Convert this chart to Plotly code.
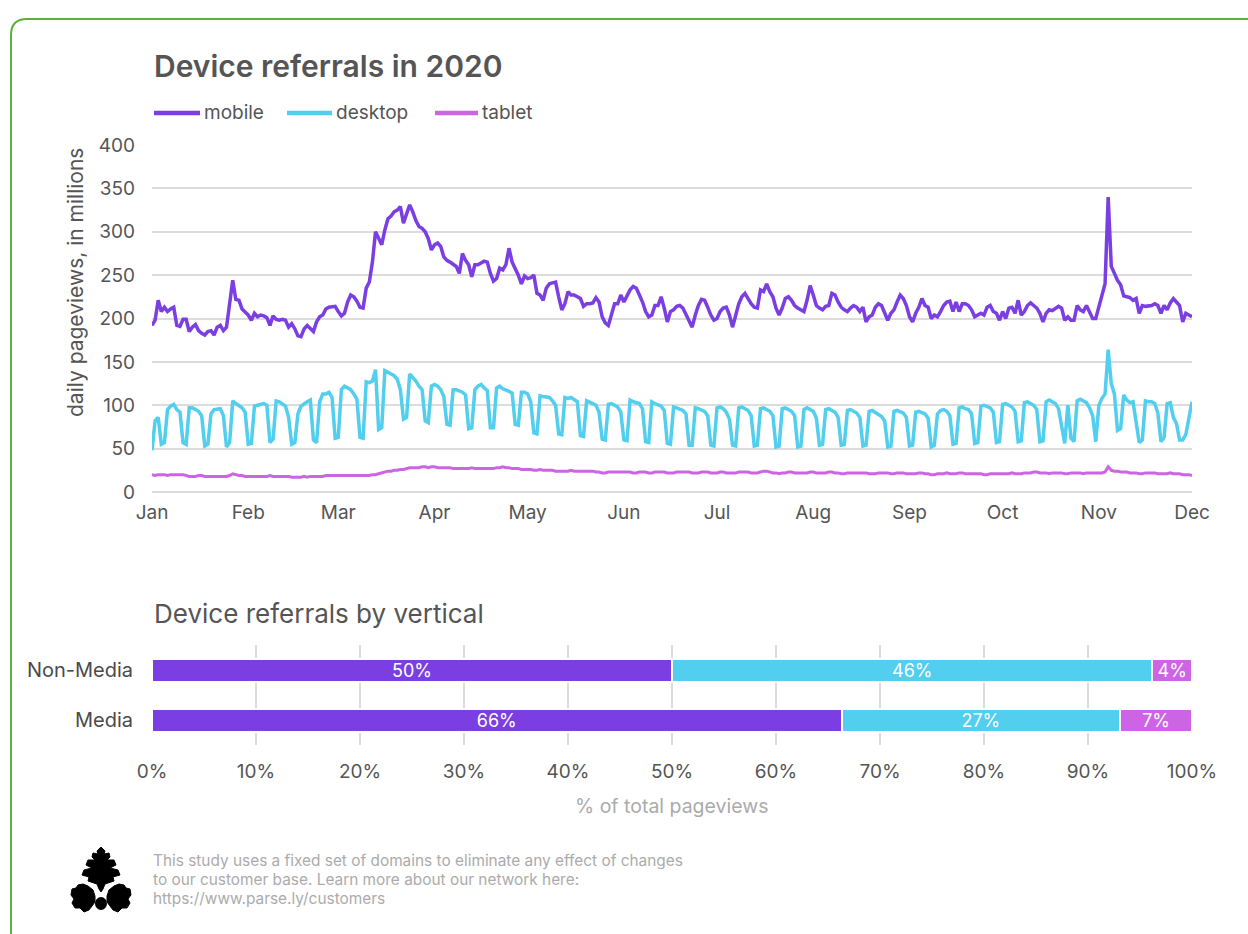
import pandas as pd
import plotly.graph_objects as go

# ---------------- data ----------------
# daily pageviews (millions), 2020-01-01 .. 2020-12-01, one line per month
mobile = [
    192, 198, 221, 208, 213, 208, 211, 213, 192, 191, 199, 199, 185, 190, 193, 186, 183, 181, 185, 186, 181, 190, 192, 186, 190, 215, 244, 222, 221, 211, 208,
    204, 198, 206, 202, 204, 203, 201, 192, 203, 199, 198, 199, 198, 190, 194, 188, 180, 179, 188, 192, 188, 185, 196, 202, 204, 211, 213, 213, 214,
    208, 203, 206, 219, 227, 225, 220, 213, 212, 235, 242, 265, 300, 292, 285, 302, 315, 318, 323, 325, 329, 310, 321, 331, 323, 313, 306, 304, 300, 292, 279,
    285, 287, 283, 271, 267, 265, 263, 260, 252, 275, 267, 262, 248, 262, 262, 264, 266, 265, 252, 243, 246, 258, 256, 262, 281, 265, 258, 250, 240, 249,
    246, 247, 250, 229, 227, 221, 235, 240, 241, 242, 225, 210, 217, 231, 227, 227, 225, 223, 214, 217, 217, 218, 224, 219, 202, 195, 192, 204, 217, 217, 227,
    219, 227, 233, 237, 235, 227, 219, 208, 202, 204, 215, 215, 225, 212, 196, 208, 210, 214, 215, 212, 204, 196, 190, 204, 215, 222, 221, 213, 204, 198,
    200, 208, 212, 213, 204, 190, 202, 217, 225, 229, 223, 217, 213, 212, 233, 231, 240, 231, 225, 212, 204, 212, 223, 225, 221, 215, 212, 210, 208, 221, 238,
    227, 215, 212, 210, 214, 215, 229, 227, 219, 213, 210, 208, 212, 215, 213, 208, 213, 196, 202, 204, 213, 217, 215, 206, 198, 206, 210, 219, 227, 223, 215,
    202, 196, 206, 213, 223, 215, 213, 200, 204, 202, 208, 215, 219, 220, 208, 219, 208, 217, 217, 215, 210, 202, 204, 206, 204, 213, 215, 208, 206, 198,
    208, 200, 212, 213, 206, 221, 204, 208, 215, 218, 215, 212, 206, 196, 206, 210, 209, 212, 214, 212, 198, 202, 198, 198, 215, 210, 208, 215, 208, 200, 200,
    213, 228, 240, 340, 260, 252, 244, 239, 226, 225, 224, 221, 223, 206, 215, 214, 214, 215, 217, 215, 206, 215, 210, 218, 223, 219, 215, 196, 206, 204,
    202,
]

desktop = [
    48, 82, 86, 55, 57, 95, 99, 101, 95, 92, 57, 55, 97, 97, 95, 93, 88, 53, 55, 90, 95, 96, 96, 88, 52, 57, 105, 102, 100, 97, 92,
    55, 56, 99, 100, 101, 102, 100, 57, 61, 105, 104, 101, 99, 86, 55, 57, 90, 99, 102, 104, 106, 60, 57, 104, 113, 113, 115, 109, 62,
    63, 118, 122, 120, 118, 113, 107, 63, 62, 127, 126, 128, 141, 72, 74, 140, 138, 136, 134, 130, 118, 84, 86, 136, 132, 128, 122, 118, 82, 80, 122,
    124, 122, 118, 110, 78, 77, 118, 118, 117, 115, 112, 73, 74, 118, 122, 124, 120, 117, 74, 74, 120, 122, 119, 118, 116, 114, 78, 77, 115, 115,
    113, 104, 68, 67, 111, 110, 110, 109, 105, 100, 67, 66, 109, 108, 109, 107, 104, 65, 64, 105, 104, 102, 100, 92, 61, 60, 101, 102, 100, 98, 92,
    60, 59, 106, 104, 103, 102, 96, 58, 57, 104, 102, 101, 99, 94, 56, 55, 98, 97, 96, 94, 90, 54, 54, 97, 96, 95, 93, 88, 54, 53,
    97, 98, 96, 92, 84, 54, 53, 97, 98, 96, 94, 88, 53, 54, 96, 97, 95, 93, 88, 52, 53, 96, 97, 95, 93, 88, 52, 53, 95, 97, 95,
    93, 85, 54, 55, 95, 96, 94, 92, 86, 54, 55, 94, 95, 93, 91, 86, 53, 54, 93, 94, 92, 90, 87, 82, 52, 53, 93, 94, 92, 91, 86,
    53, 54, 92, 93, 92, 90, 85, 52, 54, 90, 94, 95, 93, 88, 55, 56, 97, 98, 96, 95, 90, 56, 57, 99, 100, 98, 97, 92, 57, 58,
    101, 102, 100, 98, 93, 58, 59, 103, 104, 102, 100, 95, 58, 59, 104, 106, 104, 102, 96, 75, 56, 100, 62, 58, 105, 107, 105, 103, 97, 88, 58,
    100, 108, 113, 164, 125, 113, 71, 73, 112, 106, 103, 104, 80, 57, 60, 105, 104, 104, 102, 91, 58, 63, 102, 103, 86, 79, 60, 60, 66, 88,
    104,
]

tablet = [
    20, 19, 20, 20, 20, 19, 20, 20, 20, 20, 20, 19, 18, 18, 18, 19, 19, 18, 18, 18, 18, 18, 18, 18, 18, 19, 21, 20, 19, 19, 18,
    18, 18, 18, 18, 18, 18, 18, 19, 18, 18, 18, 18, 18, 18, 17, 17, 17, 17, 18, 17, 18, 18, 18, 18, 18, 19, 19, 19, 19,
    19, 19, 19, 19, 19, 19, 19, 19, 19, 19, 19, 20, 20, 21, 22, 23, 24, 24, 25, 25, 26, 26, 27, 28, 28, 28, 28, 29, 29, 28, 29,
    29, 28, 28, 28, 28, 28, 27, 27, 27, 27, 27, 27, 28, 27, 27, 27, 27, 27, 27, 27, 28, 28, 29, 28, 28, 27, 27, 27, 26, 26,
    26, 26, 25, 25, 26, 25, 25, 25, 25, 24, 24, 24, 24, 24, 25, 24, 24, 24, 24, 24, 24, 24, 23, 23, 22, 22, 23, 23, 23, 23, 23,
    23, 23, 23, 22, 22, 23, 23, 23, 22, 22, 23, 23, 23, 23, 22, 22, 22, 23, 23, 23, 23, 23, 22, 22, 22, 23, 23, 23, 22, 22,
    22, 23, 23, 22, 22, 22, 22, 23, 23, 23, 23, 22, 22, 22, 23, 24, 24, 23, 22, 22, 21, 22, 22, 23, 23, 22, 22, 22, 22, 22, 23,
    23, 22, 22, 22, 22, 23, 23, 22, 22, 21, 21, 22, 22, 22, 22, 22, 22, 22, 21, 21, 21, 22, 22, 22, 22, 21, 21, 22, 22, 22, 21,
    21, 21, 21, 22, 22, 21, 21, 20, 20, 21, 21, 21, 22, 21, 21, 21, 22, 22, 21, 21, 21, 21, 21, 21, 20, 20, 21, 21, 21, 21,
    21, 21, 21, 22, 21, 21, 21, 22, 22, 22, 23, 23, 22, 22, 22, 21, 22, 22, 22, 22, 21, 21, 22, 22, 22, 22, 21, 22, 22, 22, 22,
    22, 22, 23, 29, 25, 24, 24, 23, 23, 23, 22, 22, 22, 21, 21, 22, 22, 22, 22, 21, 21, 21, 21, 22, 21, 21, 21, 20, 20, 20,
    19,
]

devices = ["mobile", "desktop", "tablet"]
colors = {"mobile": "#7a3ee2", "desktop": "#52ceee", "tablet": "#cd64e6"}

# share of total pageviews by vertical (%)
verticals = ["Media", "Non-Media"]
share_mobile = [66.3, 50.0]
share_desktop = [26.8, 46.2]
share_tablet = [6.9, 3.8]

footer_lines = [
    "This study uses a fixed set of domains to eliminate any effect of changes",
    "to our customer base. Learn more about our network here:",
    "https://www.parse.ly/customers",
]

# ---------------- layout helpers (pixel -> paper) ----------------
W, H = 1248, 934


def fx(x):
    return x / W


def fy(y):
    return 1 - y / H


FONT = "Inter, Roboto, sans-serif"
TXT = "#555555"
GRID = "#dcdcdc"
TICK = 19

fig = go.Figure()

# ---------------- line chart ----------------
series = {"mobile": mobile, "desktop": desktop, "tablet": tablet}
for name in devices:
    vals = series[name]
    dates = pd.date_range("2020-01-01", periods=len(vals), freq="D")
    fig.add_trace(go.Scatter(
        x=dates, y=vals, mode="lines", name=name,
        line=dict(color=colors[name], width=3.5 if name != "tablet" else 3),
        xaxis="x", yaxis="y", showlegend=False,
    ))

# ---------------- stacked bars ----------------
shares = {"mobile": share_mobile, "desktop": share_desktop, "tablet": share_tablet}
for name in devices:
    fig.add_trace(go.Bar(
        y=verticals, x=shares[name], orientation="h", name=name,
        marker=dict(color=colors[name], line=dict(color="white", width=2)),
        texttemplate="%{x:.0f}%", textposition="inside", insidetextanchor="middle",
        textangle=0, textfont=dict(color="white", size=18, family=FONT),
        xaxis="x2", yaxis="y2", showlegend=False,
    ))

fig.update_layout(
    width=W, height=H, autosize=False,
    margin=dict(l=0, r=0, t=0, b=0, pad=0, autoexpand=False),
    paper_bgcolor="white", plot_bgcolor="white",
    font=dict(family=FONT, color=TXT, size=TICK),
    barmode="stack", bargap=0.54,
    uniformtext=dict(minsize=18, mode="show"),
    xaxis=dict(
        domain=[fx(152), fx(1192)], anchor="y", type="date", automargin=False,
        range=["2020-01-01", "2020-12-01"], dtick="M1", tickformat="%b",
        showgrid=False, zeroline=False, showline=False, ticks="",
        ticklabelstandoff=7, tickfont=dict(size=TICK, color=TXT),
    ),
    yaxis=dict(
        domain=[fy(492), fy(145)], anchor="x", range=[0, 400], dtick=50, automargin=False,
        showgrid=True, gridcolor=GRID, gridwidth=2,
        zeroline=True, zerolinecolor=GRID, zerolinewidth=2,
        showline=False, ticks="", ticklabelstandoff=16,
        tickfont=dict(size=TICK, color=TXT),
    ),
    xaxis2=dict(
        domain=[fx(152), fx(1192)], anchor="y2", range=[0, 100], dtick=10, automargin=False,
        ticksuffix="%", showgrid=True, gridcolor=GRID, gridwidth=2,
        zeroline=False, showline=False, ticks="", ticklabelstandoff=13,
        tickfont=dict(size=TICK, color=TXT),
    ),
    yaxis2=dict(
        domain=[fy(745), fy(645)], anchor="x2", type="category", automargin=False,
        categoryorder="array", categoryarray=verticals,
        showgrid=False, zeroline=False, showline=False, ticks="",
        ticklabelstandoff=18, tickfont=dict(size=TICK + 1, color="#4a4a4a"),
    ),
)

annotations = []
shapes = []

# titles
annotations.append(dict(
    text="Device referrals in 2020", x=fx(152), y=fy(66), xref="paper", yref="paper",
    xanchor="left", yanchor="middle", showarrow=False,
    font=dict(size=30, color=TXT, family=FONT, weight=600),
))
annotations.append(dict(
    text="Device referrals by vertical", x=fx(152), y=fy(613), xref="paper", yref="paper",
    xanchor="left", yanchor="middle", showarrow=False,
    font=dict(size=26, color=TXT, family=FONT),
))

# axis titles
annotations.append(dict(
    text="daily pageviews, in millions", x=fx(75), y=fy(283), xref="paper", yref="paper",
    textangle=-90, xanchor="center", yanchor="middle", showarrow=False,
    font=dict(size=21, color=TXT, family=FONT),
))
annotations.append(dict(
    text="% of total pageviews", x=fx(672), y=fy(806), xref="paper", yref="paper",
    xanchor="center", yanchor="middle", showarrow=False,
    font=dict(size=19.5, color="#ababab", family=FONT),
))

# legend: line swatch + label
legend_pos = {"mobile": (154, 200), "desktop": (287, 332), "tablet": (435, 478)}
for name in devices:
    x0, x1 = legend_pos[name]
    shapes.append(dict(
        type="line", xref="paper", yref="paper",
        x0=fx(x0), x1=fx(x1), y0=fy(113), y1=fy(113),
        line=dict(color=colors[name], width=4.5),
    ))
    annotations.append(dict(
        text=name, x=fx(x1 + 2), y=fy(112), xref="paper", yref="paper",
        xanchor="left", yanchor="middle", showarrow=False,
        font=dict(size=TICK, color=TXT, family=FONT),
    ))

# footer note
for i, line in enumerate(footer_lines):
    annotations.append(dict(
        text=line, x=fx(151), y=fy(860 + 19 * i), xref="paper", yref="paper",
        xanchor="left", yanchor="middle", showarrow=False,
        font=dict(size=15.4, color="#ababab", family=FONT),
    ))


def pix_path(points):
    return "M " + " L ".join(f"{fx(x):.5f},{fy(y):.5f}" for x, y in points) + " Z"


# parsley leaf mark
top_leaf = [(101, 847), (105, 851), (104, 854), (109, 853), (110, 857), (107, 860), (114, 860),
            (116, 865), (110, 868), (118, 870), (120, 875), (113, 877), (114, 881), (108, 883),
            (105, 884), (103, 889), (101, 892), (99, 889), (97, 884), (94, 883), (88, 881),
            (89, 877), (82, 875), (84, 870), (92, 868), (86, 865), (88, 860), (95, 860),
            (92, 857), (93, 853), (98, 854), (97, 851)]
left_leaf = [(95, 896), (93, 890), (88, 886), (83, 884), (78, 885), (76, 888), (72, 889),
             (71, 895), (74, 899), (72, 903), (75, 908), (80, 908), (84, 912), (89, 910),
             (92, 906), (95, 902)]
right_leaf = [(202 - x, y) for x, y in left_leaf]
for pts in (top_leaf, left_leaf, right_leaf):
    shapes.append(dict(type="path", xref="paper", yref="paper", path=pix_path(pts),
                       fillcolor="black", line=dict(color="black", width=1)))
shapes.append(dict(type="circle", xref="paper", yref="paper",
                   x0=fx(95), x1=fx(107), y0=fy(910), y1=fy(897),
                   fillcolor="black", line=dict(color="black", width=0)))

# card border (right and bottom edges run past the canvas)
L, T, R, B, r = 11, 19, 1264, 948, 16
border = (
    f"M {fx(L)},{fy(T + r)} Q {fx(L)},{fy(T)} {fx(L + r)},{fy(T)} "
    f"L {fx(R - r)},{fy(T)} Q {fx(R)},{fy(T)} {fx(R)},{fy(T + r)} "
    f"L {fx(R)},{fy(B - r)} Q {fx(R)},{fy(B)} {fx(R - r)},{fy(B)} "
    f"L {fx(L + r)},{fy(B)} Q {fx(L)},{fy(B)} {fx(L)},{fy(B - r)} Z"
)
shapes.append(dict(type="path", xref="paper", yref="paper", path=border,
                   line=dict(color="#5cb040", width=2), fillcolor="rgba(0,0,0,0)", layer="below"))

fig.update_layout(annotations=annotations, shapes=shapes)

fig.write_html("out.html")
